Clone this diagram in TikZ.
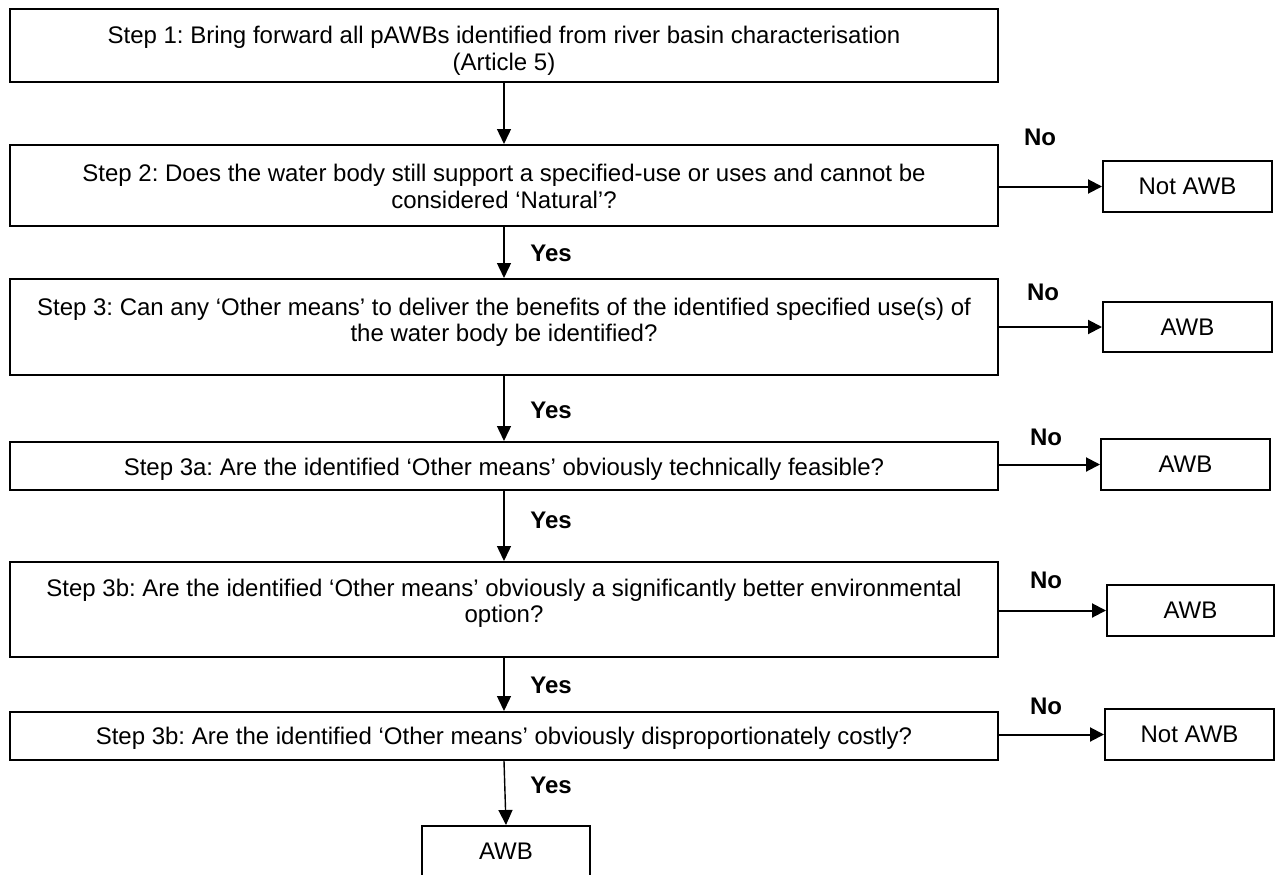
\documentclass[tikz,border=0pt]{standalone}
\usepackage{fontspec}
\setmainfont{Liberation Sans}
\usetikzlibrary{arrows.meta}
\frenchspacing
\begin{document}
\begin{tikzpicture}[x=1pt,y=-1pt,
  box/.style={draw,line width=2pt,inner sep=0pt},
  txt/.style={align=center,font=\fontsize{24}{26.5}\selectfont,inner sep=0pt},
  lbl/.style={font=\bfseries\fontsize{24}{26}\selectfont,inner sep=0pt},
  arr/.style={line width=1.4pt,-{Triangle[length=15pt,width=14pt]}},
  sarr/.style={line width=2pt,-{Triangle[length=14pt,width=14pt]}}]
\useasboundingbox (0,0) rectangle (1275,875);
\clip (0,0) rectangle (1275,875);
% main boxes
\node[box,minimum width=988pt,minimum height=73pt] (s1) at (504,45.5) {};
\node[txt] (t1) at (504,51) {Step 1: Bring forward all pAWBs identified from river basin characterisation\\(Article 5)};
\node[box,minimum width=988pt,minimum height=81pt] (s2) at (504,185.5) {};
\node[txt] (t2) at (504,186.5) {Step 2: Does the water body still support a specified-use or uses and cannot be\\considered ‘Natural’?};
\node[box,minimum width=988pt,minimum height=96pt] (s3) at (504,327) {};
\node[txt] (t3) at (504,322.5) {Step 3: Can any ‘Other means’ to deliver the benefits of the identified specified use(s) of\\the water body be identified?};
\node[box,minimum width=988pt,minimum height=48pt] (s3a) at (504,466) {};
\node[txt] (t3a) at (504,469) {Step 3a: Are the identified ‘Other means’ obviously technically feasible?};
\node[box,minimum width=988pt,minimum height=95pt] (s3b) at (504,609.5) {};
\node[txt] (t3b) at (504,603.5) {Step 3b: Are the identified ‘Other means’ obviously a significantly better environmental\\option?};
\node[box,minimum width=988pt,minimum height=48pt] (s3c) at (504,736) {};
\node[txt] (t3c) at (504,738.5) {Step 3b: Are the identified ‘Other means’ obviously disproportionately costly?};
% outcome boxes
\node[box,txt,minimum width=169pt,minimum height=51pt] (n1) at (1187.5,186.5) {Not AWB};
\node[box,txt,minimum width=169pt,minimum height=50pt] (a2) at (1187.5,327) {AWB};
\node[box,txt,minimum width=169pt,minimum height=51pt] (a3) at (1185.5,464.5) {AWB};
\node[box,txt,minimum width=167pt,minimum height=51pt] (a4) at (1190.5,610.5) {AWB};
\node[box,txt,minimum width=169pt,minimum height=51pt] (n2) at (1189.5,734.5) {Not AWB};
\node[box,minimum width=168pt,minimum height=60pt] (a5) at (506,856) {};
\node[txt] (t5) at (506,851) {AWB};
% vertical arrows
\draw[arr] (s1.south) -- (s2.north);
\draw[arr] (s2.south) -- (s3.north);
\draw[arr] (s3.south) -- (s3a.north);
\draw[arr] (s3a.south) -- (s3b.north);
\draw[arr] (s3b.south) -- (s3c.north);
\draw[arr] (s3c.south) -- (a5.north);
% side arrows
\draw[sarr] (s2.east |- n1.west) -- (n1.west);
\draw[sarr] (s3.east |- a2.west) -- (a2.west);
\draw[sarr] (s3a.east |- a3.west) -- (a3.west);
\draw[sarr] (s3b.east |- a4.west) -- (a4.west);
\draw[sarr] (s3c.east |- n2.west) -- (n2.west);
% labels
\node[lbl] (y1) at (551,253) {Yes};
\node[lbl] (y2) at (551,410) {Yes};
\node[lbl] (y3) at (551,520) {Yes};
\node[lbl] (y4) at (551,685) {Yes};
\node[lbl] (y5) at (551,785) {Yes};
\node[lbl] (no1) at (1040,137) {No};
\node[lbl] (no2) at (1043,292) {No};
\node[lbl] (no3) at (1046,437) {No};
\node[lbl] (no4) at (1046,580) {No};
\node[lbl] (no5) at (1046,706) {No};
\end{tikzpicture}
\end{document}
